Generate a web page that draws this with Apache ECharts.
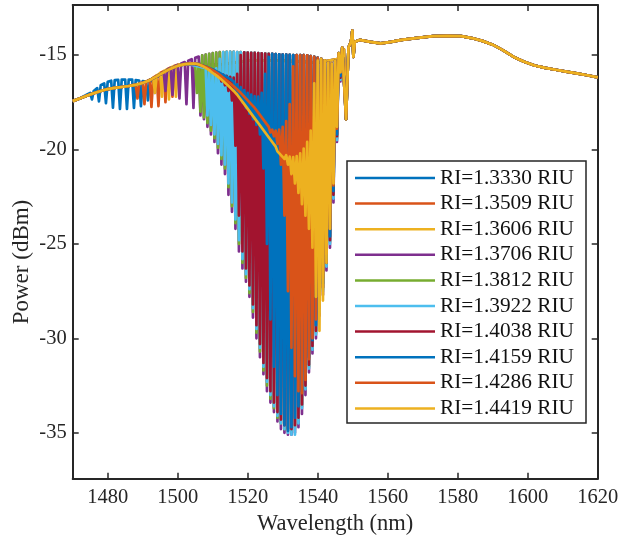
<!DOCTYPE html>
<html>
<head>
<meta charset="utf-8">
<script src="https://cdn.jsdelivr.net/npm/echarts@6/dist/echarts.min.js"></script>
<style>
html, body { margin: 0; padding: 0; background: #fff; }
#chart { width: 630px; height: 535px; }
</style>
</head>
<body>
<div id="chart"></div>
<script>
// Refractive-index cases, one transmission spectrum each
const SERIES_NAMES = ['RI=1.3330 RIU', 'RI=1.3509 RIU', 'RI=1.3606 RIU', 'RI=1.3706 RIU', 'RI=1.3812 RIU',
                      'RI=1.3922 RIU', 'RI=1.4038 RIU', 'RI=1.4159 RIU', 'RI=1.4286 RIU', 'RI=1.4419 RIU'];
const COLORS = ['#0072BD', '#D95319', '#EDB120', '#7E2F8E', '#77AC30',
                '#4DBEEE', '#A2142F', '#0072BD', '#D95319', '#EDB120'];
const X_TICKS = [1480, 1500, 1520, 1540, 1560, 1580, 1600, 1620];
const Y_TICKS = [-35, -30, -25, -20, -15];

// Smooth trace shared by every spectrum outside its own fringe window (nm, dBm)
const BASE_WL = [1470, 1472, 1474, 1476, 1478, 1480, 1482, 1484, 1486, 1488, 1490, 1492, 1494, 1496, 1498,
                 1500, 1502, 1504, 1506, 1508, 1512, 1520, 1530, 1540, 1546,
                 1547.5, 1548.1, 1548.8, 1549.5, 1549.9, 1550.2, 1550.6, 1552, 1555, 1558, 1561, 1564, 1568,
                 1573, 1577, 1581, 1584, 1587, 1590, 1593, 1596, 1599, 1602, 1605, 1608, 1611, 1614, 1617, 1620];
const BASE_P = [-17.44, -17.3, -17.16, -17.02, -16.9, -16.8, -16.74, -16.69, -16.64, -16.58, -16.48, -16.33, -16.13, -15.92, -15.72,
                -15.57, -15.48, -15.45, -15.47, -15.55, -15.5, -15.3, -15.3, -15.4, -15.2,
                -14.7, -18.4, -14.6, -14.3, -13.7, -15.1, -14.3, -14.2, -14.3, -14.38, -14.3, -14.2, -14.1,
                -14.0, -13.98, -14.0, -14.1, -14.25, -14.45, -14.75, -15.1, -15.35, -15.55, -15.68, -15.78, -15.88, -15.97, -16.07, -16.18];

// Upper fringe envelope common to the dip band, 1500..1547 nm in 1 nm steps
const CAP_START = 1500;
const CAP = [-15.52, -15.45, -15.37, -15.3, -15.22, -15.15, -15.08, -15.02, -14.97, -14.93,
             -14.9, -14.87, -14.85, -14.84, -14.83, -14.83, -14.83, -14.84, -14.85, -14.86,
             -14.87, -14.88, -14.89, -14.9, -14.91, -14.92, -14.93, -14.94, -14.95, -14.96,
             -14.97, -14.98, -14.99, -15.0, -15.0, -15.0, -15.0, -15.02, -15.05, -15.1,
             -15.15, -15.2, -15.28, -15.4, -15.45, -15.3, -14.9, -14.6];
const CAP_END = 1547;

// Fringe crests, 1 nm apart, starting at CREST_START[k]
const CREST_START = [1474, 1488, 1493, 1496, 1496, 1500, 1505, 1505, 1505, 1505];
const crest1 = [-17.1, -17.0, -16.9, -16.75, -16.6, -16.5, -16.42, -16.36, -16.33, -16.31, -16.3,
                -16.3, -16.3, -16.3, -16.32, -16.35, -16.38, -16.4, -16.42, -16.35, -16.2, -16.05];
const crest2 = [-16.55, -16.5, -16.45, -16.4, -16.3, -16.2, -16.08, -15.95, -15.85, -15.75, -15.65, -15.58, -15.52];
const crest3 = [-16.2, -16.08, -15.96, -15.85, -15.75, -15.66, -15.58, -15.52, -15.48];
const crest4 = [-15.9, -15.78, -15.68, -15.6, -15.52];
const crest5 = [-15.92, -15.82, -15.72, -15.64, -15.57, -15.52, -15.49, -15.48, -15.5, -15.53, -15.47, -15.02];
const crest6 = [-15.57, -15.52, -15.5, -15.5, -15.52, -15.56, -15.6, -15.65, -15.7, -15.75, -15.8, -15.7, -15.2];
const crest7 = [-15.47, -15.52, -15.58, -15.65, -15.72, -15.8, -15.88, -15.96, -16.03, -16.1, -16.15, -16.2, -16.0, -15.0];
const crest8 = [-15.47, -15.51, -15.56, -15.61, -15.68, -15.75, -15.85, -15.95, -16.05, -16.15, -16.28,
                -16.4, -16.55, -16.7, -16.85, -17.0, -17.1, -17.18, -17.2, -17.0, -16.0, -15.1];
const crest9 = [-15.47, -15.5, -15.55, -15.62, -15.7, -15.8, -15.92, -16.05, -16.2, -16.35, -16.5, -16.65,
                -16.82, -17.0, -17.2, -17.4, -17.6, -17.8, -18.05, -18.3, -18.55, -18.8, -18.95, -19.0,
                -18.95, -18.8, -18.5, -17.6, -15.6];
const crest10 = [-15.45, -15.5, -15.58, -15.68, -15.8, -15.95, -16.08, -16.22, -16.38, -16.55, -16.72, -16.9,
                 -17.1, -17.35, -17.6, -17.85, -18.1, -18.35, -18.6, -18.85, -19.1, -19.35, -19.6, -19.85,
                 -20.05, -20.2, -20.3, -20.38, -20.4, -20.35, -20.2, -19.95, -19.6, -19.0, -16.5, -15.3];

// Fringe troughs, 1 nm apart, starting at TROUGH_START[k] (null: no trough there)
const TROUGH_START = [1474.5, 1488.5, 1493.5, 1496.5, 1505.5, 1508.5, 1512.5, 1516.5, 1526.5, 1528.5];
const trough1 = [null, -17.35, null, -17.45, null, -17.55, null, -17.78, null, -17.85, null,
                 -17.85, null, -17.8, null, -17.7, null, -17.4, null, -17.0, null];
const trough2 = [-17.3, null, -17.6, null, -17.75, null, -17.7, null, -17.5, null, -17.2, null];
const trough3 = [-17.0, null, -17.2, null, -17.35, null, -17.2, null];
const trough4 = [-16.9, null, -17.1, null, -17.3, null, -17.6, null, -17.8, null,
                 -18.2, -18.4, -18.8, -19.2, -19.6, -20.2, -20.8, -21.3, -22.4, -23.3,
                 -24.2, -25.4, -26.3, -27.0, -27.8, -28.9, -30.0, -31.0, -31.9, -32.8,
                 -33.4, -33.9, -34.4, -34.8, -35.0, -35.1, -35.1, -35.0, -34.7, -34.0,
                 -33.0, -31.8, -30.8, -30.0, -28.8, -27.7, -26.4, -25.2, -22.8, -19.6, -16.4];
const trough5 = [-17.0, -18.0, -18.3, -18.6, -19.0, -19.4, -19.9, -20.5, -21.0, -22.0, -23.0,
                 -23.9, -25.0, -26.0, -26.8, -27.6, -28.6, -29.7, -30.7, -31.7, -32.5,
                 -33.2, -33.7, -34.2, -34.5, -34.8, -34.9, -34.9, -34.7, -34.3, -33.6,
                 -32.6, -31.5, -30.5, -29.7, -28.5, -27.4, -26.1, -24.9, -22.5, -19.4, -16.3];
const trough6 = [-18.2, -18.7, -19.2, -19.7, -20.3, -20.8, -21.8, -22.8,
                 -23.7, -24.8, -25.8, -26.6, -27.4, -28.4, -29.5, -30.5, -31.5, -32.3,
                 -33.0, -33.6, -34.1, -34.5, -34.8, -35.0, -35.1, -35.1, -34.5, -33.7,
                 -32.7, -31.6, -30.6, -29.8, -28.6, -27.5, -26.2, -25.0, -22.6, -19.5, -16.3];
const trough7 = [-16.4, -16.6, -16.9, -17.4,
                 -19.8, -23.5, -25.4, -26.3, -27.2, -28.2, -29.3, -30.3, -31.3, -32.1,
                 -32.8, -33.4, -33.9, -34.3, -34.6, -34.8, -34.8, -34.6, -34.2, -33.5,
                 -32.5, -31.4, -30.4, -29.6, -28.4, -27.3, -26.0, -24.8, -22.4, -19.3, -16.2];
const trough8 = [-16.9, -17.2, -17.5, -17.8, -18.1, -18.4, -18.7, -19.2, -21.0, -25.0,
                 -29.0, -31.5, -33.0, -34.0, -34.6, -34.9, -34.7, -34.2, -33.6, -32.8,
                 -31.9, -31.0, -30.1, -29.3, -28.2, -27.1, -25.8, -24.6, -22.2, -19.2, -16.1];
const trough9 = [-19.1, -19.3, -19.7, -20.8, -23.5, -27.5, -30.5, -32.0, -32.8, -32.9,
                 -32.2, -31.1, -30.0, -29.0, -27.9, -26.8, -25.5, -24.2, -21.9, -18.9, -15.9];
const trough10 = [-20.1, -20.3, -20.5, -20.8, -21.3, -21.8, -22.3, -22.9, -23.5, -24.2,
                  -25.2, -27.8, -29.6, -28.0, -26.0, -24.2, -21.8, -18.8, -15.9];

const CRESTS = [crest1, crest2, crest3, crest4, crest5, crest6, crest7, crest8, crest9, crest10];
const TROUGHS = [trough1, trough2, trough3, trough4, trough5, trough6, trough7, trough8, trough9, trough10];

// Assemble one spectrum: shared trace, then crests interleaved with troughs, then shared trace again
function spectrum(k) {
  const cr = CRESTS[k], tr = TROUGHS[k];
  const c0 = CREST_START[k], t0 = TROUGH_START[k];
  const onCap = k >= 3;
  const cEnd = onCap ? CAP_END : c0 + cr.length - 1;
  const pts = [];
  BASE_WL.forEach((w, i) => { if (w < c0) pts.push([w, BASE_P[i]]); });
  for (let w = c0; w <= cEnd; w++) {
    const i = w - c0;
    pts.push([w, i < cr.length ? cr[i] : CAP[w - CAP_START]]);
    const j = Math.round(w + 0.5 - t0);
    if (w < cEnd && j >= 0 && j < tr.length && tr[j] !== null) pts.push([w + 0.5, tr[j]]);
  }
  BASE_WL.forEach((w, i) => { if (w > cEnd) pts.push([w, BASE_P[i]]); });
  return pts;
}

const FONT = 'Liberation Serif';
const AXIS_COLOR = '#262626';

function xAxisDef(pos, labels) {
  return {
    type: 'value', position: pos, min: 1470, max: 1620,
    axisLine: { show: true, onZero: false, lineStyle: { color: AXIS_COLOR, width: 2 } },
    axisTick: { show: true, inside: true, length: 6, customValues: X_TICKS, lineStyle: { color: AXIS_COLOR, width: 1.5 } },
    axisLabel: { show: labels, customValues: X_TICKS, formatter: v => String(v),
                 fontFamily: FONT, fontSize: 20.5, color: AXIS_COLOR, margin: 8 },
    splitLine: { show: false },
    name: labels ? 'Wavelength (nm)' : '',
    nameLocation: 'middle', nameGap: 31,
    nameTextStyle: { fontFamily: FONT, fontSize: 22.5, color: AXIS_COLOR }
  };
}
function yAxisDef(pos, labels) {
  return {
    type: 'value', position: pos, min: -37.43, max: -12.35,
    axisLine: { show: true, onZero: false, lineStyle: { color: AXIS_COLOR, width: 2 } },
    axisTick: { show: true, inside: true, length: 6, customValues: Y_TICKS, lineStyle: { color: AXIS_COLOR, width: 1.5 } },
    axisLabel: { show: labels, customValues: Y_TICKS, formatter: v => String(v),
                 fontFamily: FONT, fontSize: 20.5, color: AXIS_COLOR, margin: 6 },
    splitLine: { show: false }
  };
}

const chart = echarts.init(document.getElementById('chart'), null, { renderer: 'canvas' });
chart.setOption({
  animation: false,
  backgroundColor: '#fff',
  grid: { left: 72.7, right: 32.3, top: 5, bottom: 56.3, containLabel: false, outerBoundsMode: 'none' },
  xAxis: [xAxisDef('bottom', true), xAxisDef('top', false)],
  yAxis: [yAxisDef('left', true), yAxisDef('right', false)],
  legend: {
    orient: 'vertical', left: 355, top: 167, padding: 0,
    itemWidth: 80, itemHeight: 2.5, itemGap: 3.6, icon: 'rect', z: 10,
    textStyle: { fontFamily: FONT, fontSize: 21.3, lineHeight: 22, color: '#111' },
    data: SERIES_NAMES
  },
  graphic: {
    elements: [
      {
        type: 'rect', z: 5, silent: true,
        shape: { x: 347, y: 161, width: 239, height: 262 },
        style: { fill: '#fff', stroke: AXIS_COLOR, lineWidth: 1.5 }
      },
      {
        type: 'text', z: 5, silent: true, x: 22, y: 262, rotation: Math.PI / 2,
        style: { text: 'Power (dBm)', font: '23px "Liberation Serif"', fill: AXIS_COLOR,
                 textAlign: 'center', textVerticalAlign: 'middle' }
      }
    ]
  },
  series: SERIES_NAMES.map((name, k) => ({
    name, type: 'line', data: spectrum(k),
    xAxisIndex: 0, yAxisIndex: 0,
    showSymbol: false, symbol: 'none', smooth: false,
    color: COLORS[k],
    lineStyle: { color: COLORS[k], width: 2.7, join: 'round' },
    z: 2, silent: true
  }))
});
</script>
</body>
</html>
